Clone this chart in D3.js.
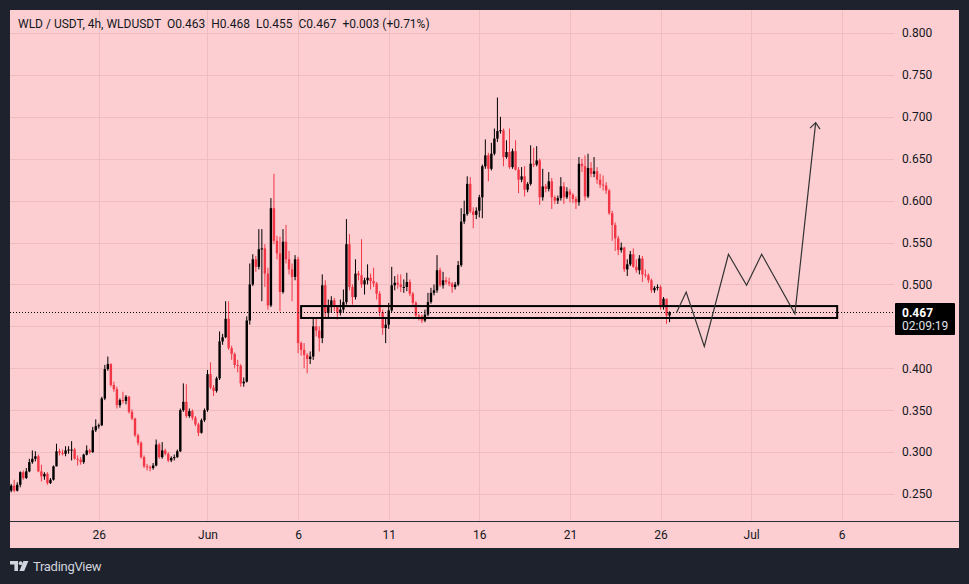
<!DOCTYPE html>
<html>
<head>
<meta charset="utf-8">
<script src="https://cdn.jsdelivr.net/npm/d3@7"></script>
<style>
  html, body { margin: 0; padding: 0; background: #1e222d; }
  svg { display: block; }
  text { font-family: Roboto, "Noto Sans", sans-serif; }
</style>
</head>
<body>
<svg id="chart" width="969" height="584"></svg>
<script>
// ---------------- DATA ----------------
const firstCandle = "2025-05-21T04:00";   // 4h candles
const candleHours = 4;
const opens = [
.254,.260,.254,.261,.276,.269,.277,.288,.292,.295,
.277,.271,.274,.263,.267,.283,.301,.299,.298,.302,
.303,.303,.292,.291,.288,.297,.302,.300,.326,.331,
.332,.364,.399,.405,.380,.375,.356,.362,.361,.366,
.348,.340,.320,.311,.294,.283,.282,.281,.284,.309,
.294,.302,.298,.290,.293,.294,.301,.350,.360,.343,
.349,.341,.333,.323,.338,.350,.393,.377,.373,.388,
.432,.437,.459,.424,.417,.404,.403,.382,.384,.457,
.500,.530,.521,.542,.543,.513,.475,.591,.552,.537,
.491,.551,.530,.518,.509,.530,.430,.422,.416,.411,
.414,.450,.445,.436,.499,.466,.475,.481,.473,.466,
.470,.479,.548,.497,.485,.513,.511,.500,.505,.508,
.504,.501,.489,.467,.448,.452,.469,.499,.502,.500,
.497,.497,.503,.489,.478,.463,.462,.457,.464,.479,
.490,.493,.517,.499,.505,.503,.501,.497,.500,.523,
.575,.584,.620,.587,.583,.588,.604,.641,.654,.638,
.656,.674,.683,.684,.652,.658,.640,.659,.637,.625,
.629,.613,.620,.644,.643,.648,.604,.617,.614,.623,
.604,.600,.603,.617,.604,.611,.607,.602,.598,.644,
.641,.605,.639,.632,.635,.625,.619,.618,.612,.585,
.571,.555,.541,.544,.518,.524,.536,.521,.517,.531,
.512,.511,.505,.493,.496,.497,.473,.483,.463];
const highs = [
.262,.267,.264,.277,.278,.281,.292,.302,.301,.297,
.285,.276,.276,.269,.284,.310,.304,.303,.307,.307,
.313,.305,.296,.294,.298,.308,.304,.330,.339,.334,
.366,.404,.414,.406,.384,.378,.364,.372,.368,.367,
.351,.341,.322,.313,.296,.286,.284,.287,.315,.311,
.312,.304,.300,.295,.297,.303,.352,.382,.381,.352,
.351,.343,.335,.340,.352,.398,.407,.380,.390,.444,
.441,.480,.480,.427,.419,.410,.405,.389,.462,.525,
.536,.534,.566,.566,.548,.520,.603,.632,.558,.557,
.566,.571,.540,.525,.535,.533,.432,.430,.418,.420,
.459,.460,.450,.512,.505,.482,.486,.484,.475,.482,
.494,.578,.560,.500,.530,.516,.554,.508,.524,.513,
.520,.503,.492,.470,.460,.478,.521,.510,.512,.512,
.506,.514,.506,.491,.480,.465,.464,.470,.490,.496,
.500,.535,.520,.515,.509,.508,.503,.503,.528,.591,
.600,.629,.628,.592,.592,.607,.643,.673,.657,.669,
.686,.723,.700,.686,.672,.686,.662,.672,.640,.640,
.641,.622,.666,.663,.665,.650,.638,.620,.634,.627,
.606,.606,.628,.622,.616,.614,.609,.605,.652,.650,
.654,.656,.646,.652,.640,.632,.630,.622,.614,.588,
.574,.558,.550,.545,.530,.540,.543,.530,.535,.534,
.518,.513,.507,.498,.500,.499,.485,.483,.468];
const lows = [
.252,.252,.253,.258,.267,.268,.276,.286,.289,.276,
.265,.267,.261,.262,.266,.283,.296,.296,.295,.298,
.290,.291,.284,.285,.286,.296,.298,.299,.324,.328,
.331,.362,.397,.378,.372,.352,.353,.358,.357,.346,
.338,.318,.308,.292,.281,.278,.277,.279,.283,.292,
.292,.296,.288,.288,.290,.293,.300,.348,.341,.341,
.338,.331,.319,.322,.336,.348,.375,.367,.371,.386,
.428,.436,.422,.410,.400,.395,.378,.378,.383,.452,
.498,.515,.518,.480,.497,.470,.473,.548,.530,.468,
.489,.525,.512,.480,.505,.418,.415,.400,.394,.405,
.410,.438,.420,.430,.460,.460,.466,.468,.458,.463,
.466,.476,.493,.476,.482,.505,.496,.488,.500,.494,
.497,.482,.462,.440,.430,.447,.467,.493,.495,.491,
.490,.492,.486,.474,.461,.457,.454,.455,.462,.477,
.487,.490,.497,.495,.500,.498,.490,.494,.498,.521,
.572,.582,.585,.567,.578,.580,.579,.638,.623,.636,
.654,.670,.680,.641,.650,.638,.638,.636,.609,.622,
.605,.610,.618,.640,.641,.595,.600,.610,.611,.590,
.596,.596,.600,.596,.602,.598,.597,.590,.594,.634,
.600,.603,.628,.628,.620,.615,.612,.608,.583,.552,
.540,.535,.538,.515,.510,.522,.520,.514,.512,.503,
.508,.502,.490,.490,.493,.470,.470,.453,.455];
const closes = [
.260,.254,.261,.276,.269,.277,.288,.292,.295,.277,
.271,.274,.263,.267,.283,.301,.299,.298,.302,.303,
.303,.292,.291,.288,.297,.302,.300,.326,.331,.332,
.364,.399,.405,.380,.375,.356,.362,.361,.366,.348,
.340,.320,.311,.294,.283,.282,.281,.284,.309,.294,
.302,.298,.290,.293,.294,.301,.350,.360,.343,.349,
.341,.333,.323,.338,.350,.393,.377,.373,.388,.432,
.437,.459,.424,.417,.404,.403,.382,.384,.457,.500,
.530,.521,.542,.543,.513,.475,.591,.552,.537,.491,
.551,.530,.518,.509,.530,.430,.422,.416,.411,.414,
.450,.445,.436,.499,.466,.475,.481,.473,.466,.470,
.479,.548,.497,.485,.513,.511,.500,.505,.508,.504,
.501,.489,.467,.448,.452,.469,.499,.502,.500,.497,
.497,.503,.489,.478,.463,.462,.457,.464,.479,.490,
.493,.517,.499,.505,.503,.501,.497,.500,.523,.575,
.584,.620,.587,.583,.588,.604,.641,.654,.638,.656,
.674,.683,.684,.652,.658,.640,.659,.637,.625,.629,
.613,.620,.644,.643,.648,.604,.617,.614,.623,.604,
.600,.603,.617,.604,.611,.607,.602,.598,.644,.641,
.605,.639,.632,.635,.625,.619,.618,.612,.585,.571,
.555,.541,.544,.518,.524,.536,.521,.517,.531,.512,
.511,.505,.493,.496,.497,.473,.483,.463,.467];

const priceTicks = [0.25,0.30,0.35,0.40,0.45,0.50,0.55,0.60,0.65,0.70,0.75,0.80];
const timeTickDates = ["2025-05-26","2025-06-01","2025-06-06","2025-06-11","2025-06-16","2025-06-21","2025-06-26","2025-07-01","2025-07-06"];
const timeTickLabels = ["26","Jun","6","11","16","21","26","Jul","6"];
const timeDomain = ["2025-05-21T02:25","2025-07-08T21:16"];
const priceDomain = [0.25, 0.80];

const lastPrice = 0.467;
const countdown = "02:09:19";
const headerText = "WLD / USDT, 4h, WLDUSDT  O0.463  H0.468  L0.455  C0.467  +0.003 (+0.71%)";

// drawn support zone
const zoneTimes = ["2025-06-06T04:00","2025-07-05T18:00"];
const zonePrices = [0.4600, 0.4742];

// drawn projected path (zigzag with arrow)
const pathTimes = ["2025-06-26T21:00","2025-06-27T10:00","2025-06-28T10:00","2025-06-29T18:00","2025-06-30T18:00","2025-07-01T14:00","2025-07-03T10:00","2025-07-04T13:30"];
const pathPrices = [0.466,0.491,0.426,0.536,0.499,0.536,0.465,0.693];

// ---------------- LAYOUT ----------------
const W = 969, H = 584;
const panel = {x0: 10, y0: 10, x1: 959, y1: 548};
const plot = {x0: 10, y0: 10, x1: 894, y1: 521};
const BG = "#fcced1", GRID = "#efbcc0", UP = "#000000", DOWN = "#f23645", TXT = "#131722";

const parseT = d3.timeParse("%Y-%m-%dT%H:%M");
const parseD = d3.timeParse("%Y-%m-%d");

const x = d3.scaleTime().domain(timeDomain.map(parseT)).range([plot.x0, plot.x1]);
const y = d3.scaleLinear().domain(priceDomain).range([494, 33]);

const t0 = parseT(firstCandle);
const candles = closes.map((c, i) => ({
  t: d3.timeHour.offset(t0, i * candleHours),
  o: opens[i], h: highs[i], l: lows[i], c: c
}));

const svg = d3.select("#chart");
svg.append("rect").attr("width", W).attr("height", H).attr("fill", "#1e222d");
svg.append("rect").attr("x", panel.x0).attr("y", panel.y0)
  .attr("width", panel.x1 - panel.x0).attr("height", panel.y1 - panel.y0).attr("fill", BG);

svg.append("defs").append("clipPath").attr("id", "clip")
  .append("rect").attr("x", plot.x0).attr("y", plot.y0)
  .attr("width", plot.x1 - plot.x0).attr("height", plot.y1 - plot.y0);

// grid
const grid = svg.append("g").attr("clip-path", "url(#clip)");
grid.selectAll("line.h").data(priceTicks).join("line").attr("class", "h")
  .attr("x1", plot.x0).attr("x2", plot.x1)
  .attr("y1", d => Math.round(y(d)) + 0.5).attr("y2", d => Math.round(y(d)) + 0.5)
  .attr("stroke", GRID).attr("stroke-width", 1);
grid.selectAll("line.v").data(timeTickDates.map(parseD)).join("line").attr("class", "v")
  .attr("x1", d => Math.round(x(d)) + 0.5).attr("x2", d => Math.round(x(d)) + 0.5)
  .attr("y1", plot.y0).attr("y2", plot.y1)
  .attr("stroke", GRID).attr("stroke-width", 1);

// candles
const cg = svg.append("g").attr("clip-path", "url(#clip)");
const bw = 2.4;
const cs = cg.selectAll("g.c").data(candles).join("g").attr("class", "c");
cs.append("line")
  .attr("x1", d => x(d.t)).attr("x2", d => x(d.t))
  .attr("y1", d => y(d.h)).attr("y2", d => y(d.l))
  .attr("stroke", d => d.c >= d.o ? UP : DOWN).attr("stroke-width", 1);
cs.append("rect")
  .attr("x", d => x(d.t) - bw / 2).attr("width", bw)
  .attr("y", d => y(Math.max(d.o, d.c)))
  .attr("height", d => Math.max(1, Math.abs(y(d.o) - y(d.c))))
  .attr("fill", d => d.c >= d.o ? UP : DOWN);

// last price dotted line
svg.append("line").attr("x1", plot.x0).attr("x2", plot.x1)
  .attr("y1", Math.round(y(lastPrice)) + 0.5).attr("y2", Math.round(y(lastPrice)) + 0.5)
  .attr("stroke", "#000").attr("stroke-width", 1).attr("stroke-dasharray", "1,2");

// zone rectangle
const zx0 = x(parseT(zoneTimes[0])), zx1 = x(parseT(zoneTimes[1]));
svg.append("rect").attr("x", zx0).attr("y", y(zonePrices[1]))
  .attr("width", zx1 - zx0).attr("height", y(zonePrices[0]) - y(zonePrices[1]))
  .attr("fill", "none").attr("stroke", "#000").attr("stroke-width", 2);

// projected path with arrow
svg.append("defs").append("marker").attr("id", "arrow")
  .attr("viewBox", "-10 -8 12 16").attr("refX", 0).attr("refY", 0)
  .attr("markerWidth", 12).attr("markerHeight", 16).attr("markerUnits", "userSpaceOnUse")
  .attr("orient", "auto")
  .append("path").attr("d", "M-6,-5 L0,0 L-6,5").attr("fill", "none")
  .attr("stroke", "#333").attr("stroke-width", 1.2);
const pathData = pathTimes.map((t, i) => [parseT(t), pathPrices[i]]);
svg.append("path").datum(pathData)
  .attr("d", d3.line().x(d => x(d[0])).y(d => y(d[1])))
  .attr("fill", "none").attr("stroke", "#333").attr("stroke-width", 1.2)
  .attr("marker-end", "url(#arrow)");

// time axis line
svg.append("line").attr("x1", panel.x0).attr("x2", panel.x1)
  .attr("y1", plot.y1 + 0.5).attr("y2", plot.y1 + 0.5)
  .attr("stroke", "#2a2e39").attr("stroke-width", 1);

// time axis
const xAxis = d3.axisBottom(x).tickValues(timeTickDates.map(parseD))
  .tickFormat((d, i) => timeTickLabels[i]).tickSize(0).tickPadding(9);
const gx = svg.append("g").attr("transform", `translate(0,${plot.y1})`).call(xAxis);
gx.select(".domain").remove();
gx.selectAll("text").attr("fill", TXT).style("font-size", "12px");

// price axis (labels hidden under the last-price badge are not shown, as in the platform)
const ly = y(lastPrice);
const yAxis = d3.axisRight(y).tickValues(priceTicks).tickFormat(d3.format(".3f")).tickSize(0).tickPadding(8);
const gy = svg.append("g").attr("transform", `translate(${plot.x1},0)`).call(yAxis);
gy.select(".domain").remove();
gy.selectAll("text").attr("fill", TXT).style("font-size", "12px");
gy.selectAll(".tick").filter(d => y(d) > ly - 16 && y(d) < ly + 30).remove();

// last price label
const lab = svg.append("g");
lab.append("rect").attr("x", 895).attr("y", ly - 9).attr("width", 60).attr("height", 32)
  .attr("fill", "#000").attr("rx", 1);
lab.append("text").attr("x", 902).attr("y", ly + 5).text(lastPrice.toFixed(3))
  .attr("fill", "#fff").style("font-size", "12px").style("font-weight", "bold");
lab.append("text").attr("x", 902).attr("y", ly + 18).text(countdown)
  .attr("fill", "#e0e3eb").style("font-size", "12px");

// header
svg.append("text").attr("x", 18).attr("y", 28).text(headerText)
  .attr("fill", TXT).style("font-size", "12px").style("white-space", "pre");

// footer logo
const foot = svg.append("g").attr("fill", "#d1d4dc");
foot.append("path").attr("d", "M10,561 h8 v10 h-3.6 v-6.6 h-4.4 z");
foot.append("circle").attr("cx", 20.6).attr("cy", 563.2).attr("r", 1.9);
foot.append("path").attr("d", "M23.4,561 h5 l-4.2,10 h-4.8 z");
foot.append("text").attr("x", 33).attr("y", 571).text("TradingView")
  .style("font-size", "13px").style("letter-spacing", "-0.3px");
</script>
</body>
</html>
